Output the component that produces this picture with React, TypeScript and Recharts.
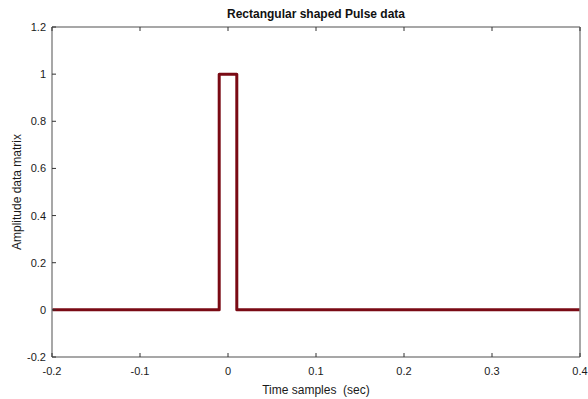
import { Label, Line, LineChart, XAxis, YAxis } from "recharts";

const timeSamples = [-0.2, -0.01, -0.01, 0.01, 0.01, 0.4];
const amplitudes = [0, 0, 1, 1, 0, 0];
const xTicks = [-0.2, -0.1, 0, 0.1, 0.2, 0.3, 0.4];
const yTicks = [-0.2, 0, 0.2, 0.4, 0.6, 0.8, 1, 1.2];

const data = timeSamples.map((t, i) => ({ t, amp: amplitudes[i] }));

const FONT = "'Liberation Sans', Arial, sans-serif";
const AXIS_GREY = "#8a8a8a";
const TICK_LEN = 4;

// MATLAB style: tick marks point into the plot box
function BottomTick(props: any) {
  const { x, y, payload } = props;
  return (
    <g>
      <line x1={x} x2={x} y1={y} y2={y - TICK_LEN} stroke="#333" />
      <text x={x} y={y + 18} textAnchor="middle" fontSize={11} fill="#1a1a1a" fontFamily={FONT}>
        {payload.value}
      </text>
    </g>
  );
}

function LeftTick(props: any) {
  const { x, y, payload } = props;
  return (
    <g>
      <line x1={x} x2={x + TICK_LEN} y1={y} y2={y} stroke="#333" />
      <text x={x - 6} y={y + 4} textAnchor="end" fontSize={11} fill="#1a1a1a" fontFamily={FONT}>
        {payload.value}
      </text>
    </g>
  );
}

function TopTick(props: any) {
  const { x, y } = props;
  return <line x1={x} x2={x} y1={y} y2={y + TICK_LEN} stroke="#333" />;
}

function RightTick(props: any) {
  const { x, y } = props;
  return <line x1={x} x2={x - TICK_LEN} y1={y} y2={y} stroke="#333" />;
}

export default function App() {
  return (
    <div style={{ position: "absolute", left: 0, top: 0, background: "#fff" }}>
      <LineChart
        width={588}
        height={399}
        data={data}
        margin={{ top: 26, right: 7, bottom: 0, left: 0 }}
      >
        <XAxis
          dataKey="t"
          type="number"
          domain={[-0.2, 0.4]}
          ticks={xTicks}
          xAxisId="bottom"
          height={42}
          tickSize={0}
          tickMargin={0}
          tickLine={false}
          tick={BottomTick}
          interval={0}
          axisLine={{ stroke: AXIS_GREY, strokeWidth: 1.5 }}
        >
          <Label
            value={"Time samples\u00a0\u00a0(sec)"}
            position="insideBottom"
            offset={5}
            style={{ fontSize: 12, fill: "#1a1a1a", fontFamily: FONT }}
          />
        </XAxis>
        <XAxis
          dataKey="t"
          type="number"
          domain={[-0.2, 0.4]}
          ticks={xTicks}
          xAxisId="top"
          orientation="top"
          height={1}
          tickSize={0}
          tickMargin={0}
          tickLine={false}
          tick={TopTick}
          interval={0}
          axisLine={{ stroke: AXIS_GREY, strokeWidth: 1.5 }}
        >
          <Label
            value="Rectangular shaped Pulse data"
            position="top"
            offset={8}
            style={{ fontSize: 12, fontWeight: "bold", fill: "#111", fontFamily: FONT }}
          />
        </XAxis>
        <YAxis
          yAxisId="left"
          type="number"
          domain={[-0.2, 1.2]}
          ticks={yTicks}
          width={52}
          tickSize={0}
          tickMargin={0}
          tickLine={false}
          tick={LeftTick}
          interval={0}
          axisLine={{ stroke: AXIS_GREY, strokeWidth: 1.5 }}
        >
          <Label
            value="Amplitude data matrix"
            angle={-90}
            position="center"
            dx={-9}
            style={{ fontSize: 12, fill: "#1a1a1a", fontFamily: FONT, textAnchor: "middle" }}
          />
        </YAxis>
        <YAxis
          yAxisId="right"
          orientation="right"
          type="number"
          domain={[-0.2, 1.2]}
          ticks={yTicks}
          width={1}
          tickSize={0}
          tickMargin={0}
          tickLine={false}
          tick={RightTick}
          interval={0}
          axisLine={{ stroke: AXIS_GREY, strokeWidth: 1.5 }}
        />
        <Line
          xAxisId="bottom"
          yAxisId="left"
          type="linear"
          dataKey="amp"
          stroke="#7a0a14"
          strokeWidth={3}
          strokeLinejoin="round"
          dot={false}
          isAnimationActive={false}
        />
      </LineChart>
    </div>
  );
}
